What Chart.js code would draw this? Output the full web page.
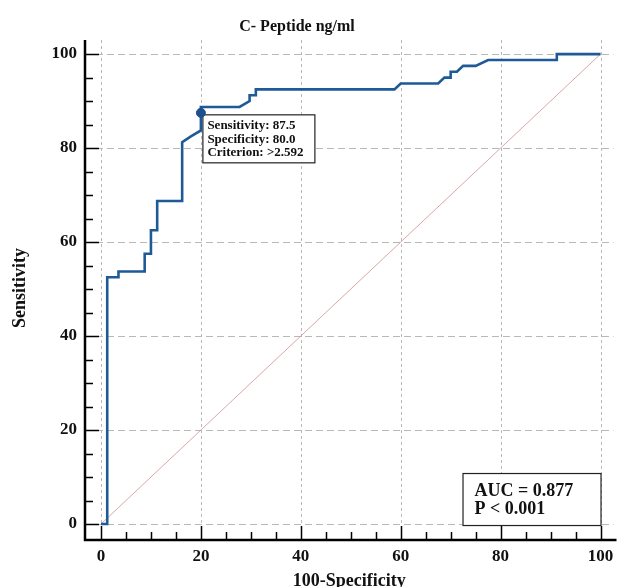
<!DOCTYPE html>
<html>
<head>
<meta charset="utf-8">
<title>C- Peptide ROC</title>
<script src="https://cdn.jsdelivr.net/npm/chart.js@4.4.0/dist/chart.umd.min.js"></script>
<style>
    html, body { margin: 0; padding: 0; background: #ffffff; }
    #chartWrap { width: 619px; height: 587px; }
</style>
</head>
<body>
<div id="chartWrap"><canvas id="rocChart" width="619" height="587"></canvas></div>
<script>
// ROC curve points (100-Specificity, Sensitivity)
const specPoints = [0, 1.25, 1.25, 3.5, 3.5, 8.75, 8.75, 10, 10, 11.25, 11.25, 16.25, 16.25, 18, 20, 20, 20, 27.75, 29.75, 29.75, 31, 31, 58.75, 60, 67.5, 68.75, 70, 70, 71.25, 72.5, 75, 77.5, 91.25, 91.25, 100];
const sensPoints = [0, 0, 52.5, 52.5, 53.75, 53.75, 57.5, 57.5, 62.5, 62.5, 68.75, 68.75, 81.25, 82.5, 83.75, 87.5, 88.75, 88.75, 90, 91.25, 91.25, 92.5, 92.5, 93.75, 93.75, 95, 95, 96.25, 96.25, 97.5, 97.5, 98.75, 98.75, 100, 100];

// Reference (chance) line
const diagX = [0, 100];
const diagY = [0, 100];

// Optimal cut-off point
const cutoffX = [20];
const cutoffY = [87.5];

// Tick labels
const tickValues = [0, 20, 40, 60, 80, 100];

// Annotation texts
const chartTitle = 'C- Peptide ng/ml';
const xTitle = '100-Specificity';
const yTitle = 'Sensitivity';
const cutoffLabels = ['Sensitivity: 87.5', 'Specificity: 80.0', 'Criterion: >2.592'];
const aucLabels = ['AUC = 0.877', 'P < 0.001'];

const serif = '"Liberation Serif", "Times New Roman", serif';

function toXY(xs, ys) {
    return xs.map((v, i) => ({ x: v, y: ys[i] }));
}

// Grid, axes, inward ticks and text boxes
const rocFrame = {
    id: 'rocFrame',
    beforeDatasetsDraw(chart) {
        const { ctx, chartArea: a, scales: { x, y } } = chart;
        ctx.save();
        ctx.strokeStyle = '#b8b8b8';
        ctx.lineWidth = 1;
        ctx.setLineDash([3, 3]);
        tickValues.forEach(v => {
            const px = Math.round(x.getPixelForValue(v)) + 0.5;
            ctx.beginPath();
            ctx.moveTo(px, a.top);
            ctx.lineTo(px, a.bottom);
            ctx.stroke();
        });
        ctx.setLineDash([7, 4]);
        tickValues.forEach(v => {
            const py = Math.round(y.getPixelForValue(v)) + 0.5;
            ctx.beginPath();
            ctx.moveTo(a.left, py);
            ctx.lineTo(a.right, py);
            ctx.stroke();
        });
        ctx.setLineDash([]);

        // cut-off info box, next to the point
        const bx = x.getPixelForValue(cutoffX[0]) + 1.5;
        const by = y.getPixelForValue(cutoffY[0]) + 1.5;
        ctx.fillStyle = '#ffffff';
        ctx.fillRect(bx, by, 112, 48);
        ctx.strokeStyle = '#222222';
        ctx.lineWidth = 1.2;
        ctx.strokeRect(bx + 0.5, by + 0.5, 112, 48);
        ctx.fillStyle = '#111111';
        ctx.font = 'bold 13px ' + serif;
        ctx.textAlign = 'left';
        ctx.textBaseline = 'alphabetic';
        cutoffLabels.forEach((t, i) => ctx.fillText(t, bx + 5, by + 14.5 + i * 13.7));
        ctx.restore();
    },
    afterDraw(chart) {
        const { ctx, chartArea: a, scales: { x, y } } = chart;
        ctx.save();
        ctx.strokeStyle = '#000000';
        ctx.lineWidth = 2.5;
        ctx.beginPath();
        ctx.moveTo(a.left, a.top);
        ctx.lineTo(a.left, a.bottom);
        ctx.lineTo(a.right + 3, a.bottom);
        ctx.stroke();

        // inward ticks, major every 20, minor every 5
        ctx.lineWidth = 1.5;
        for (let v = 0; v <= 100; v += 5) {
            const len = v % 20 === 0 ? 14 : 8;
            const px = Math.round(x.getPixelForValue(v)) + 0.5;
            const py = Math.round(y.getPixelForValue(v)) + 0.5;
            ctx.beginPath();
            ctx.moveTo(px, a.bottom);
            ctx.lineTo(px, a.bottom - len);
            ctx.moveTo(a.left, py);
            ctx.lineTo(a.left + len, py);
            ctx.stroke();
        }

        // AUC box, anchored at bottom-right corner of data range
        const rx = x.getPixelForValue(100);
        const ry = y.getPixelForValue(0) + 1;
        const w = 138, h = 52;
        ctx.fillStyle = '#ffffff';
        ctx.fillRect(rx - w, ry - h, w, h);
        ctx.strokeStyle = '#222222';
        ctx.lineWidth = 1.2;
        ctx.strokeRect(rx - w + 0.5, ry - h + 0.5, w, h);
        ctx.fillStyle = '#111111';
        ctx.font = 'bold 18px ' + serif;
        ctx.textAlign = 'left';
        ctx.textBaseline = 'alphabetic';
        aucLabels.forEach((t, i) => ctx.fillText(t, rx - w + 12, ry - h + 23 + i * 18));

        // titles
        ctx.textAlign = 'center';
        ctx.font = 'bold 16px ' + serif;
        ctx.fillText(chartTitle, 297, 31);
        ctx.font = 'bold 18px ' + serif;
        ctx.fillText(xTitle, (a.left + a.right) / 2, 586);
        ctx.translate(25, (a.top + a.bottom) / 2 - 2);
        ctx.rotate(-Math.PI / 2);
        ctx.fillText(yTitle, 0, 0);
        ctx.restore();
    }
};

function initializeRocChart() {
    const ctx = document.getElementById('rocChart').getContext('2d');
    new Chart(ctx, {
        type: 'scatter',
        data: {
            datasets: [
                {
                    label: 'Cut-off',
                    data: toXY(cutoffX, cutoffY),
                    pointRadius: 4.5,
                    pointBackgroundColor: '#1c4f8c',
                    pointBorderColor: '#1c4f8c',
                    order: 0
                },
                {
                    label: 'ROC',
                    data: toXY(specPoints, sensPoints),
                    showLine: true,
                    borderColor: '#1d5a96',
                    borderWidth: 2.6,
                    pointRadius: 0,
                    tension: 0,
                    order: 1
                },
                {
                    label: 'Reference',
                    data: toXY(diagX, diagY),
                    showLine: true,
                    borderColor: '#cf9090',
                    borderWidth: 0.8,
                    pointRadius: 0,
                    order: 2
                }
            ]
        },
        options: {
            responsive: false,
            animation: false,
            layout: { padding: { top: 40, right: 5, bottom: 0, left: 0 } },
            plugins: {
                legend: { display: false },
                tooltip: { enabled: false },
                title: { display: false }
            },
            scales: {
                x: {
                    type: 'linear',
                    position: 'bottom',
                    min: -3.2,
                    max: 102.6,
                    afterBuildTicks: scale => { scale.ticks = tickValues.map(v => ({ value: v })); },
                    afterFit: scale => { scale.height = 47; scale.paddingLeft = 0; scale.paddingRight = 0; },
                    grid: { display: false, drawTicks: false },
                    border: { display: false },
                    ticks: {
                        padding: 6,
                        color: '#111111',
                        maxRotation: 0,
                        font: { family: serif, size: 17, weight: 'bold' }
                    }
                },
                y: {
                    type: 'linear',
                    min: -3.4,
                    max: 103,
                    afterBuildTicks: scale => { scale.ticks = tickValues.map(v => ({ value: v })); },
                    afterFit: scale => { scale.width = 85; scale.paddingTop = 0; scale.paddingBottom = 0; },
                    grid: { display: false, drawTicks: false },
                    border: { display: false },
                    ticks: {
                        padding: 8,
                        color: '#111111',
                        font: { family: serif, size: 17, weight: 'bold' }
                    }
                }
            }
        },
        plugins: [rocFrame]
    });
}

document.addEventListener('DOMContentLoaded', initializeRocChart);
</script>
</body>
</html>
